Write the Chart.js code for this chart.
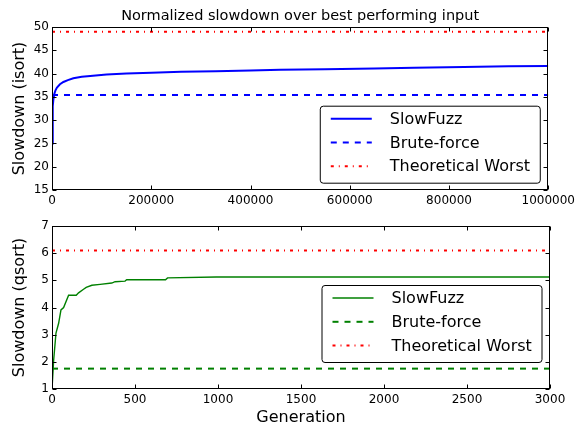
<!DOCTYPE html>
<html>
<head>
<meta charset="utf-8">
<script src="https://cdn.jsdelivr.net/npm/chart.js@4"></script>
<style>
  html, body { margin: 0; padding: 0; background: #fff; }
  #wrap { position: relative; width: 579px; height: 425px; }
  canvas { position: absolute; left: 0; }
</style>
</head>
<body>
<div id="wrap">
  <canvas id="isortChart" width="579" height="213" style="top:0"></canvas>
  <canvas id="qsortChart" width="579" height="212" style="top:213px"></canvas>
</div>
<script>
// ---- data ----
const seriesNames = ['SlowFuzz', 'Brute-force', 'Theoretical Worst'];

const isortGen  = [0, 1500, 3000, 4600, 7000, 10000, 16000, 23000, 32000, 43000, 60000, 77000, 110000, 150000, 200000, 260000, 330000, 400000, 460000, 550000, 650000, 730000, 830000, 920000, 1000000];
const isortSlow = [25.0, 33.0, 34.6, 35.6, 36.4, 37.0, 37.7, 38.2, 38.6, 39.0, 39.3, 39.5, 39.8, 40.0, 40.2, 40.4, 40.5, 40.65, 40.8, 40.95, 41.1, 41.25, 41.4, 41.55, 41.65];
const isortBrute = 35.4;
const isortWorst = 49.0;
const isortXTicks = [0, 200000, 400000, 600000, 800000, 1000000];
const isortYTicks = [15, 20, 25, 30, 35, 40, 45, 50];

const qsortGen  = [0, 10, 24, 40, 54, 70, 100, 146, 160, 190, 206, 240, 290, 360, 380, 440, 450, 684, 696, 990, 3000];
const qsortSlow = [1.0, 2.07, 3.06, 3.42, 3.91, 4.0, 4.45, 4.45, 4.54, 4.67, 4.74, 4.82, 4.85, 4.9, 4.95, 4.97, 5.02, 5.02, 5.09, 5.12, 5.12];
const qsortBrute = 1.75;
const qsortWorst = 6.1;
const qsortXTicks = [0, 500, 1000, 1500, 2000, 2500, 3000];
const qsortYTicks = [1, 2, 3, 4, 5, 6, 7];

Chart.defaults.font.family = "'DejaVu Sans', sans-serif";
Chart.defaults.font.size = 12;
Chart.defaults.color = '#000';

// box frame with inward ticks on all four sides (matplotlib classic look)
const frameTicks = {
    id: 'frameTicks',
    afterDatasetsDraw(chart) {
        const { ctx, chartArea: a, scales } = chart;
        const L = Math.round(a.left) + 0.5, R = Math.round(a.right) - 0.5;
        const T = Math.round(a.top) + 0.5, B = Math.round(a.bottom) - 0.5;
        const len = 4;
        ctx.save();
        ctx.strokeStyle = '#000';
        ctx.lineWidth = 1;
        ctx.beginPath();
        scales.x.ticks.forEach(t => {
            const px = Math.round(scales.x.getPixelForValue(t.value)) + 0.5;
            ctx.moveTo(px, B); ctx.lineTo(px, B - len);
            ctx.moveTo(px, T); ctx.lineTo(px, T + len);
        });
        scales.y.ticks.forEach(t => {
            const py = Math.round(scales.y.getPixelForValue(t.value)) + 0.5;
            ctx.moveTo(L, py); ctx.lineTo(L + len, py);
            ctx.moveTo(R, py); ctx.lineTo(R - len, py);
        });
        ctx.stroke();
        ctx.strokeRect(L, T, R - L, B - T);
        ctx.restore();
    }
};

// legend box drawn inside the plot area
const boxLegend = {
    id: 'boxLegend',
    afterDraw(chart, args, opts) {
        const { ctx, chartArea: a } = chart;
        const w = 220, h = 77;
        const x = a.right - opts.right - w;
        const y = a.top + opts.top;
        ctx.save();
        ctx.beginPath();
        ctx.roundRect(x + 0.5, y + 0.5, w, h, 3);
        ctx.fillStyle = '#fff';
        ctx.fill();
        ctx.strokeStyle = '#000';
        ctx.lineWidth = 1;
        ctx.stroke();
        chart.data.datasets.forEach((ds, i) => {
            const ry = y + 13 + i * 23.8;
            ctx.beginPath();
            ctx.setLineDash(ds.borderDash || []);
            ctx.strokeStyle = ds.borderColor;
            ctx.lineWidth = ds.borderWidth;
            ctx.moveTo(x + 11, ry);
            ctx.lineTo(x + 52, ry);
            ctx.stroke();
            ctx.setLineDash([]);
            ctx.fillStyle = '#000';
            ctx.font = "16px 'DejaVu Sans', sans-serif";
            ctx.textBaseline = 'middle';
            ctx.fillText(ds.label, x + 70, ry + 1);
        });
        ctx.restore();
    }
};

function flat(xs, v) {
    return [{ x: xs[0], y: v }, { x: xs[xs.length - 1], y: v }];
}

function makeChart(id, cfg) {
    const ctx = document.getElementById(id).getContext('2d');
    return new Chart(ctx, {
        type: 'line',
        data: {
            datasets: [
                {
                    label: seriesNames[0],
                    data: cfg.gen.map((g, i) => ({ x: g, y: cfg.slow[i] })),
                    borderColor: cfg.color,
                    borderWidth: cfg.mainWidth,
                    pointRadius: 0,
                    tension: 0
                },
                {
                    label: seriesNames[1],
                    data: flat(cfg.xTicks, cfg.brute),
                    borderColor: cfg.color,
                    borderWidth: 2,
                    borderDash: [6, 6],
                    pointRadius: 0
                },
                {
                    label: seriesNames[2],
                    data: flat(cfg.xTicks, cfg.worst),
                    borderColor: '#ff0000',
                    borderWidth: 2,
                    borderDash: [3, 5, 1, 5],
                    pointRadius: 0
                }
            ]
        },
        options: {
            responsive: false,
            animation: false,
            layout: { padding: { top: cfg.padTop, right: 29, left: 0, bottom: 0 } },
            plugins: {
                legend: { display: false },
                tooltip: { enabled: false },
                title: cfg.title ? {
                    display: true,
                    text: cfg.title,
                    fullSize: false,
                    font: { size: 14.5, weight: 'normal' },
                    padding: { top: 7.3, bottom: 2.3 }
                } : { display: false },
                boxLegend: cfg.legend
            },
            scales: {
                x: {
                    type: 'linear',
                    min: cfg.xTicks[0],
                    max: cfg.xTicks[cfg.xTicks.length - 1],
                    afterBuildTicks: s => { s.ticks = cfg.xTicks.map(v => ({ value: v })); },
                    afterFit: s => { s.height = cfg.xHeight; },
                    grid: { display: false, drawTicks: false },
                    border: { display: false },
                    ticks: { padding: 4, maxRotation: 0, autoSkip: false, callback: v => String(v) },
                    title: cfg.xTitle ? {
                        display: true,
                        text: cfg.xTitle,
                        font: { size: 16, lineHeight: 0.95 },
                        padding: 0
                    } : { display: false }
                },
                y: {
                    min: cfg.yTicks[0],
                    max: cfg.yTicks[cfg.yTicks.length - 1],
                    afterBuildTicks: s => { s.ticks = cfg.yTicks.map(v => ({ value: v })); },
                    afterFit: s => { s.width = 52; },
                    grid: { display: false, drawTicks: false },
                    border: { display: false },
                    ticks: { padding: 3, callback: v => String(v) },
                    title: {
                        display: true,
                        text: cfg.yTitle,
                        font: { size: 16 },
                        padding: { top: 10, bottom: 0 }
                    }
                }
            }
        },
        plugins: [frameTicks, boxLegend]
    });
}

makeChart('isortChart', {
    gen: isortGen, slow: isortSlow, brute: isortBrute, worst: isortWorst,
    xTicks: isortXTicks, yTicks: isortYTicks,
    color: '#0000ff', mainWidth: 2,
    title: 'Normalized slowdown over best performing input',
    yTitle: 'Slowdown (isort)',
    padTop: 0, xHeight: 23,
    legend: { right: 8.5, top: 78.7 }
});

makeChart('qsortChart', {
    gen: qsortGen, slow: qsortSlow, brute: qsortBrute, worst: qsortWorst,
    xTicks: qsortXTicks, yTicks: qsortYTicks,
    color: '#008000', mainWidth: 1.4,
    yTitle: 'Slowdown (qsort)', xTitle: 'Generation',
    padTop: 13, xHeight: 36,
    legend: { right: 8.5, top: 59 }
});
</script>
</body>
</html>
